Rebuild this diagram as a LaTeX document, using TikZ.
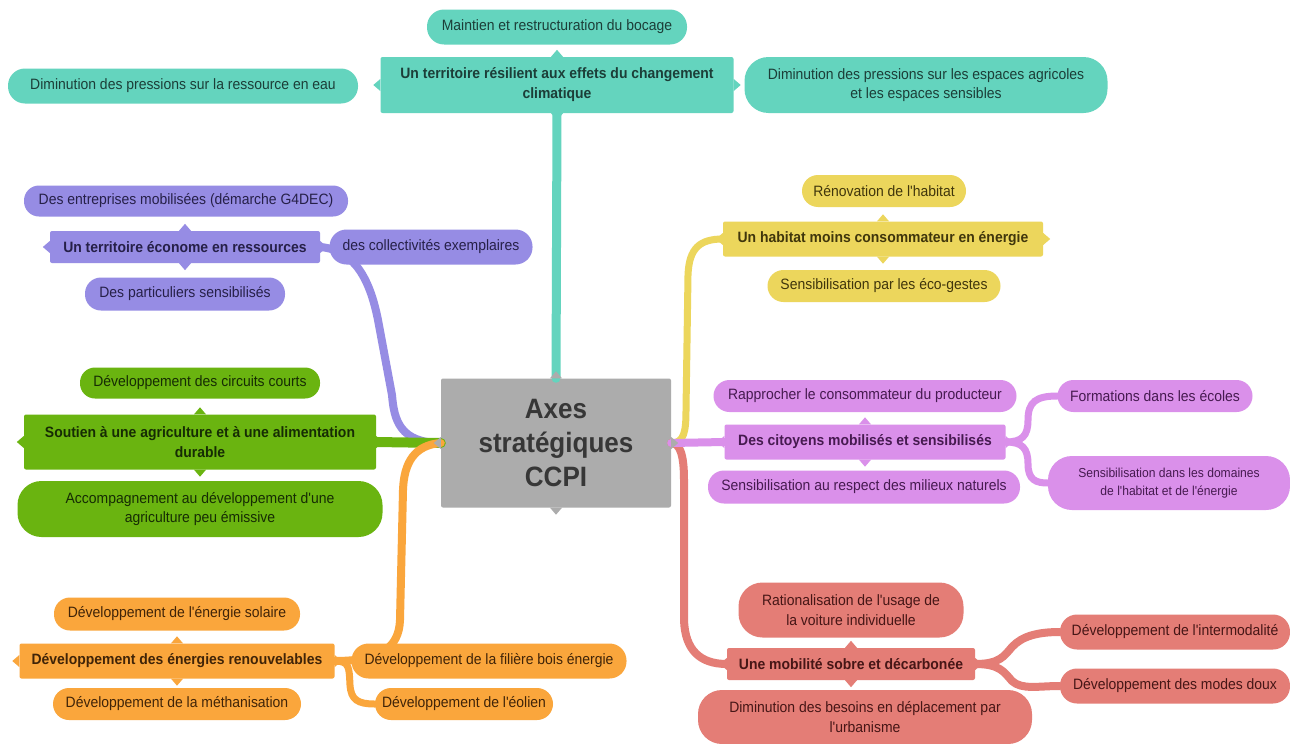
\documentclass[tikz,border=0pt]{standalone}
\usepackage{fontspec}
\newfontfamily\lsans{Liberation Sans}[FakeStretch=0.93]
\definecolor{tealF}{RGB}{100,212,190}\definecolor{tealT}{RGB}{28,62,56}
\definecolor{purF}{RGB}{150,140,228}\definecolor{purT}{RGB}{38,32,72}
\definecolor{grnF}{RGB}{106,180,16}\definecolor{grnT}{RGB}{22,44,4}
\definecolor{orF}{RGB}{250,166,60}\definecolor{orT}{RGB}{64,36,8}
\definecolor{yelF}{RGB}{236,214,92}\definecolor{yelT}{RGB}{64,54,12}
\definecolor{pinkF}{RGB}{218,144,234}\definecolor{pinkT}{RGB}{70,26,80}
\definecolor{redF}{RGB}{228,125,118}\definecolor{redT}{RGB}{70,22,22}
\definecolor{greyF}{RGB}{172,172,172}\definecolor{greyT}{RGB}{55,55,55}
\newcommand\notches[2]{%
  \fill[#2] (#1.north) ++(-6,0) -- ++(6,-7) -- ++(6,7) -- cycle;
  \fill[#2] (#1.south) ++(-6,0) -- ++(6,7) -- ++(6,-7) -- cycle;
  \fill[#2] (#1.west) ++(0,-6) -- ++(-7,6) -- ++(7,6) -- cycle;
  \fill[#2] (#1.east) ++(0,-6) -- ++(7,6) -- ++(-7,6) -- cycle;}
\tikzset{
  pill/.style={rounded corners=#1, inner sep=0pt, align=center,
    font=\lsans\fontsize{15}{19.5}\selectfont},
  pill/.default=16pt,
  mainbox/.style={rounded corners=2pt, inner sep=0pt, align=center,
    font=\lsans\bfseries\fontsize{15}{20}\selectfont},
  link/.style={line width=8pt, line cap=round},
}
\begin{document}
\begin{tikzpicture}[x=1pt,y=-1pt]
\useasboundingbox (0,0) rectangle (1290,744);
\fill[white] (0,0) rectangle (1290,744);
% ---------- main nodes ----------
\path
 node[mainbox, fill=tealF, text=tealT, minimum width=353, minimum height=56] (T) at (557,85) {Un territoire résilient aux effets du changement\\climatique}
 node[mainbox, fill=greyF, text=greyT, minimum width=230, minimum height=129, font=\lsans\bfseries\fontsize{28}{34}\selectfont] (C) at (556,443) {Axes\\stratégiques\\CCPI}
 node[mainbox, fill=purF, text=purT, minimum width=270, minimum height=32] (P) at (185,247) {Un territoire économe en ressources}
 node[mainbox, fill=grnF, text=grnT, minimum width=352, minimum height=55] (G) at (200,442) {Soutien à une agriculture et à une alimentation\\durable}
 node[mainbox, fill=orF, text=orT, minimum width=315, minimum height=35] (O) at (177,661) {Développement des énergies renouvelables}
 node[mainbox, fill=yelF, text=yelT, minimum width=320, minimum height=35] (Y) at (883,239) {Un habitat moins consommateur en énergie}
 node[mainbox, fill=pinkF, text=pinkT, minimum width=281, minimum height=35] (V) at (865,442) {Des citoyens mobilisés et sensibilisés}
 node[mainbox, fill=redF, text=redT, minimum width=248, minimum height=32] (R) at (851,664) {Une mobilité sobre et décarbonée};
% ---------- connectors ----------
\draw[link, tealF, line width=9pt] (T.south) -- (C.north);
\draw[link, purF] (C.west) .. controls (400,443) and (394,420) .. (392,395) -- (378,320) .. controls (370,280) and (355,250) .. (P.east);
\draw[link, grnF, line width=10pt] (G.east) -- (C.west);
\draw[link, orF] (C.west) .. controls (415,445) and (404,462) .. (403,490) -- (400,620) .. controls (399,648) and (380,661) .. (O.east);
\draw[link, yelF, line width=7pt] (C.east) .. controls (684,443) and (686,432) .. (686,410) -- (688,275) .. controls (689,248) and (700,239) .. (Y.west);
\draw[link, redF] (C.east) .. controls (680,443) and (684,455) .. (684,480) -- (684,620) .. controls (685,650) and (700,664) .. (R.west);
\draw[link, pinkF] (C.east) -- (V.west);
% ---------- children ----------
\path
 node[pill=17pt, fill=tealF, text=tealT, minimum width=260, minimum height=35] (T1) at (557,27) {Maintien et restructuration du bocage}
 node[pill=17pt, fill=tealF, text=tealT, minimum width=350, minimum height=35] (T2) at (183,86) {Diminution des pressions sur la ressource en eau}
 node[pill=24pt, fill=tealF, text=tealT, minimum width=363, minimum height=56] (T3) at (926,85) {Diminution des pressions sur les espaces agricoles\\et les espaces sensibles}
 node[pill=15pt, fill=purF, text=purT, minimum width=324, minimum height=31] (P1) at (186,201) {Des entreprises mobilisées (démarche G4DEC)}
 node[pill=17pt, fill=purF, text=purT, minimum width=203, minimum height=35] (P2) at (431,247) {des collectivités exemplaires}
 node[pill=16pt, fill=purF, text=purT, minimum width=200, minimum height=33] (P3) at (185,294) {Des particuliers sensibilisés}
 node[pill=15pt, fill=grnF, text=grnT, minimum width=240, minimum height=31] (G1) at (200,383) {Développement des circuits courts}
 node[pill=24pt, fill=grnF, text=grnT, minimum width=365, minimum height=56] (G2) at (200,509) {Accompagnement au développement d'une\\agriculture peu émissive}
 node[pill=16pt, fill=orF, text=orT, minimum width=246, minimum height=33] (O1) at (177,614) {Développement de l'énergie solaire}
 node[pill=16pt, fill=orF, text=orT, minimum width=248, minimum height=32] (O2) at (177,704) {Développement de la méthanisation}
 node[pill=17pt, fill=orF, text=orT, minimum width=275, minimum height=35] (O3) at (489,661) {Développement de la filière bois énergie}
 node[pill=16pt, fill=orF, text=orT, minimum width=178, minimum height=32] (O4) at (464,704) {Développement de l'éolien}
 node[pill=16pt, fill=yelF, text=yelT, minimum width=164, minimum height=32] (Y1) at (884,191) {Rénovation de l'habitat}
 node[pill=16pt, fill=yelF, text=yelT, minimum width=233, minimum height=32] (Y2) at (884,286) {Sensibilisation par les éco-gestes}
 node[pill=16pt, fill=pinkF, text=pinkT, minimum width=303, minimum height=32] (V1) at (865,396) {Rapprocher le consommateur du producteur}
 node[pill=16pt, fill=pinkF, text=pinkT, minimum width=312, minimum height=33] (V2) at (864,487) {Sensibilisation au respect des milieux naturels}
 node[pill=16pt, fill=pinkF, text=pinkT, minimum width=195, minimum height=32] (V3) at (1155,396) {Formations dans les écoles}
 node[pill=24pt, fill=pinkF, text=pinkT, minimum width=242, minimum height=54, font=\lsans\fontsize{13}{18}\selectfont] (V4) at (1169,483) {Sensibilisation dans les domaines\\de l'habitat et de l'énergie}
 node[pill=24pt, fill=redF, text=redT, minimum width=225, minimum height=55] (R1) at (851,610) {Rationalisation de l'usage de\\la voiture individuelle}
 node[pill=24pt, fill=redF, text=redT, minimum width=334, minimum height=54] (R2) at (865,717) {Diminution des besoins en déplacement par\\l'urbanisme}
 node[pill=17pt, fill=redF, text=redT, minimum width=230, minimum height=35] (R3) at (1175,632) {Développement de l'intermodalité}
 node[pill=17pt, fill=redF, text=redT, minimum width=230, minimum height=35] (R4) at (1175,686) {Développement des modes doux};
% ---------- secondary connectors ----------
\draw[link, orF, line width=7pt] (O.east) .. controls (350,661) and (349,668) .. (350,685) .. controls (351,700) and (358,704) .. (O4.west);
\draw[link, pinkF, line width=7pt] (V.east) .. controls (1022,442) and (1028,436) .. (1028,420) .. controls (1028,402) and (1036,396) .. (V3.west);
\draw[link, pinkF, line width=7pt] (V.east) .. controls (1022,442) and (1028,448) .. (1028,464) .. controls (1028,480) and (1036,483) .. (V4.west);
\draw[link, redF] (R.east) .. controls (1000,664) and (1004,656) .. (1012,647) .. controls (1022,636) and (1038,632) .. (R3.west);
\draw[link, redF] (R.east) .. controls (1000,664) and (1004,672) .. (1012,681) .. controls (1022,690) and (1038,686) .. (R4.west);
% ---------- notches ----------
\notches{T}{tealF}\notches{C}{greyF}\notches{P}{purF}\notches{G}{grnF}
\notches{O}{orF}\notches{Y}{yelF}\notches{V}{pinkF}\notches{R}{redF}
\end{tikzpicture}
\end{document}
